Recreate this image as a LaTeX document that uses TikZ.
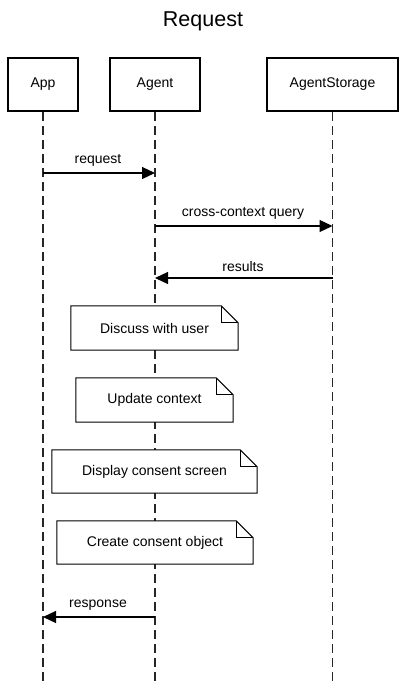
\documentclass[tikz,border=0pt]{standalone}
\usepackage{fontspec}
\setmainfont{Liberation Sans}
\usetikzlibrary{arrows.meta}
\begin{document}
\begin{tikzpicture}[x=1pt,y=-1pt,
  actor/.style={draw,line width=2.6pt,inner sep=0pt,font=\fontsize{14}{16}\selectfont},
  life/.style={line width=1.2pt,dash pattern=on 9pt off 5pt,black!85},
  msg/.style={line width=1.2pt,-{Triangle[length=13pt,width=12pt]}},
  lbl/.style={font=\fontsize{14}{16}\selectfont,inner sep=0pt},
  notebox/.style={inner sep=0pt,font=\fontsize{14}{16}\selectfont},
  notepath/.style={line width=1pt}
]
\useasboundingbox (0,0) rectangle (407,683);
\node[font=\fontsize{21.5}{24}\selectfont] (title) at (203,21) {Request};

\node[actor,minimum width=70pt,minimum height=53pt] (app) at (43,84.5) {App};
\node[actor,minimum width=90pt,minimum height=53pt] (agent) at (155,84.5) {Agent};
\node[actor,minimum width=131pt,minimum height=53pt] (store) at (332.5,84.5) {AgentStorage};

\coordinate (append) at (43,683);
\coordinate (agentend) at (155,683);
\coordinate (storeend) at (332.5,683);
\draw[life] (app.south) -- (append);
\draw[life] (agent.south) -- (agentend);
\draw[life] (store.south) -- (storeend);

% message anchor points on lifelines
\coordinate (a1) at (43,173);   \coordinate (g1) at (155,173);
\coordinate (g2) at (155,226);  \coordinate (s2) at (332.5,226);
\coordinate (s3) at (332.5,278);\coordinate (g3) at (155,278);
\coordinate (g4) at (155,617);  \coordinate (a4) at (43,617);

\draw[msg] (a1) -- (g1);
\node[lbl] (l1) at (98,160) {request};
\draw[msg] (g2) -- (s2);
\node[lbl] (l2) at (243,213) {cross-context query};
\draw[msg] (s3) -- (g3);
\node[lbl] (l3) at (243,266) {results};
\draw[msg] (g4) -- (a4);
\node[lbl] (l4) at (98,605) {response};

% notes
\newcommand{\notedraw}[1]{%
  \draw[notepath,fill=white] (#1.south west) -- (#1.north west) -- ([xshift=-17pt]#1.north east)
     -- ([yshift=-17pt]#1.north east) -- (#1.south east) -- cycle;
  \draw[notepath] ([xshift=-17pt]#1.north east) -- ([xshift=-17pt,yshift=-17pt]#1.north east)
     -- ([yshift=-17pt]#1.north east);}

\node[notebox,minimum width=167pt,minimum height=44pt] (n1) at (154.5,328) {};
\notedraw{n1}
\node[notebox] at (n1.center) {Discuss with user};

\node[notebox,minimum width=157pt,minimum height=44pt] (n2) at (154.5,400) {};
\notedraw{n2}
\node[notebox] at (n2.center) {Update context};

\node[notebox,minimum width=205pt,minimum height=43pt] (n3) at (154.5,471.5) {};
\notedraw{n3}
\node[notebox] at (n3.center) {Display consent screen};

\node[notebox,minimum width=196pt,minimum height=43pt] (n4) at (155,542.5) {};
\notedraw{n4}
\node[notebox] at (n4.center) {Create consent object};
\end{tikzpicture}
\end{document}
